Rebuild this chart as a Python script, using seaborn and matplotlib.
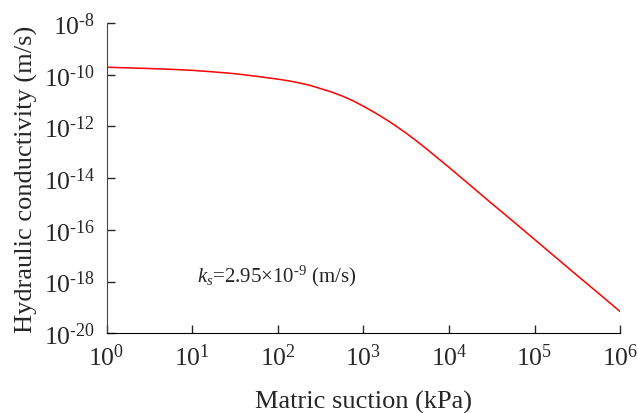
import numpy as np
import pandas as pd
import matplotlib
matplotlib.use("Agg")
import matplotlib.pyplot as plt
import seaborn as sns

# values (log10 suction vs log10 conductivity)
log_suction = [0.0, 0.25, 0.5, 0.75, 1.0, 1.25, 1.5, 1.75, 2.0, 2.125, 2.25, 2.375, 2.5,
               2.625, 2.75, 2.875, 3.0, 3.125, 3.25, 3.375, 3.5, 3.625, 3.75, 3.875, 4.0,
               4.25, 4.5, 4.75, 5.0, 5.25, 5.5, 5.75, 6.0]
log_k = [-9.71, -9.735, -9.76, -9.79, -9.83, -9.89, -9.96, -10.06, -10.17, -10.235, -10.315,
         -10.41, -10.535, -10.665, -10.82, -11.00, -11.216, -11.45, -11.70, -11.97, -12.26,
         -12.57, -12.90, -13.24, -13.58, -14.28, -14.98, -15.67, -16.37, -17.07, -17.77,
         -18.46, -19.16]
xticks = [1e0, 1e1, 1e2, 1e3, 1e4, 1e5, 1e6]
yticks = [1e-20, 1e-18, 1e-16, 1e-14, 1e-12, 1e-10, 1e-8]

data = pd.DataFrame({"suction": np.power(10.0, log_suction),
                     "k": np.power(10.0, log_k)})

sns.set_style("ticks")
plt.rcParams["font.family"] = ["Liberation Serif", "DejaVu Serif"]
plt.rcParams["mathtext.fontset"] = "custom"
plt.rcParams["mathtext.rm"] = "Liberation Serif"
plt.rcParams["mathtext.it"] = "Liberation Serif:italic"
plt.rcParams["mathtext.default"] = "regular"

fig = plt.figure(figsize=(6.38, 4.14), dpi=100)
ax = fig.add_axes([0.167, 0.1925, 0.805, 0.7495])

sns.lineplot(data=data, x="suction", y="k", color="red", linewidth=1.1, ax=ax)


def pow_label(v):
    e = int(round(np.log10(v)))
    s = str(e).replace("-", "\u2010")
    return r"$10^{%s}$" % s


ax.set_xscale("log")
ax.set_yscale("log")
ax.set_xlim(1e0, 1e6)
ax.set_ylim(1e-20, 1e-8)
ax.set_xticks(xticks)
ax.set_yticks(yticks)
ax.set_xticklabels([pow_label(v) for v in xticks])
ax.set_yticklabels([pow_label(v) for v in yticks])
ax.minorticks_off()
ax.tick_params(direction="in", length=6, width=1, labelsize=18.5, pad=7)
ax.tick_params(axis="y", pad=8)

for s in ["top", "right"]:
    ax.spines[s].set_visible(False)
ax.spines["left"].set_color("#444444")
ax.spines["bottom"].set_color("black")

ax.set_xlabel("Matric suction (kPa)", fontsize=19, labelpad=15)
ax.set_ylabel("Hydraulic conductivity (m/s)", fontsize=19, labelpad=4)

ax.text(11.5, 1e-18, "$\\mathit{k_s}$=2.95\u00d710$^{\u20109}$ (m/s)", fontsize=15,
        va="baseline", ha="left")

fig.savefig("out.png", dpi=100)
